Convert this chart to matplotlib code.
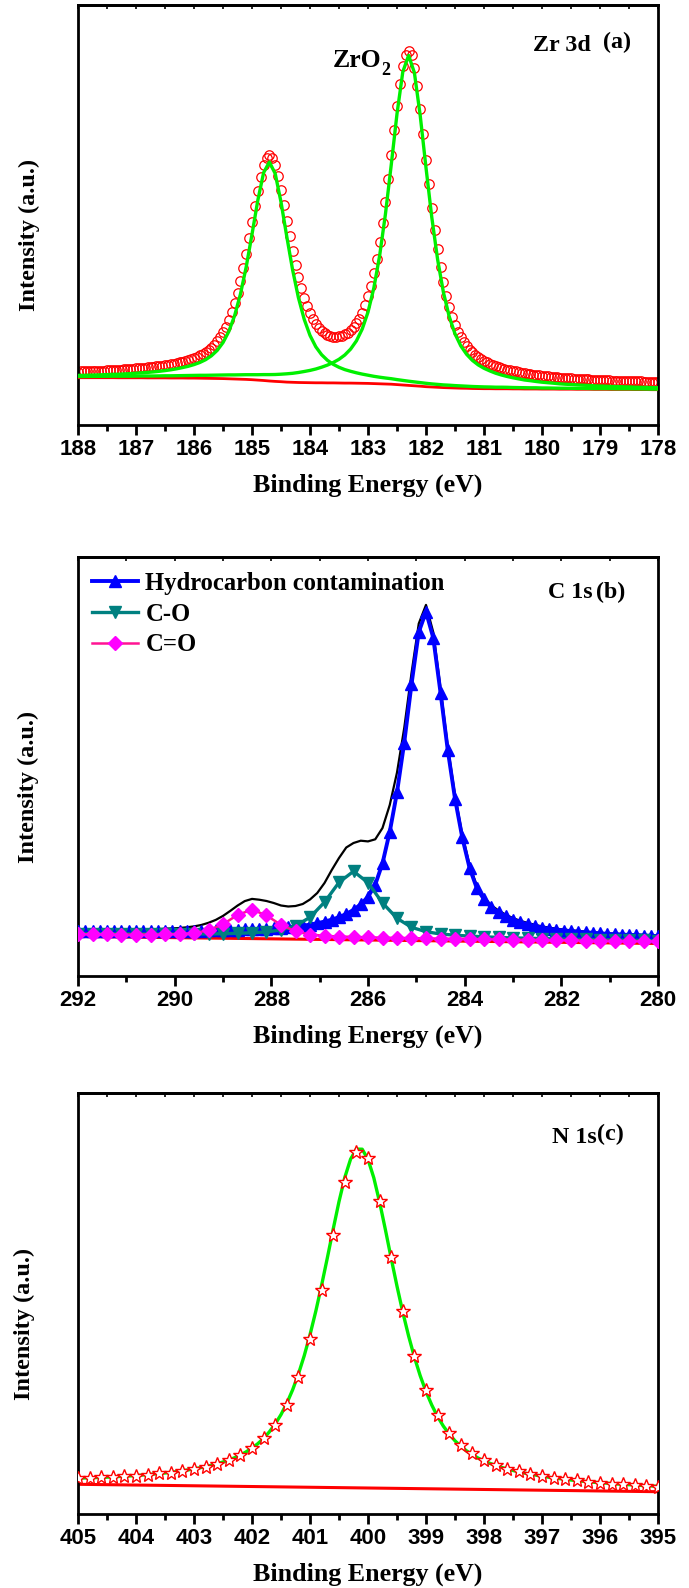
import numpy as np
import matplotlib
matplotlib.use("Agg")
import matplotlib.pyplot as plt
from matplotlib.ticker import MultipleLocator

plt.rcParams['font.family'] = 'Liberation Serif'
plt.rcParams['font.weight'] = 'bold'

# ---------------- Zr 3d ----------------
zr_ticks = [188, 187, 186, 185, 184, 183, 182, 181, 180, 179, 178]
zr_fit_range = (188.0, 178.0, 101)   # 0.1 eV steps
zr_raw_range = (188.0, 178.0, 201)   # 0.05 eV steps

zr_counts = [
    53.5, 53.6, 53.7, 53.8, 53.9, 54.0, 54.1, 54.3, 54.4, 54.5, 54.6,
    54.8, 55.0, 55.1, 55.2, 55.5, 55.6, 55.8, 56.0, 56.3, 56.6,
    56.8, 57.0, 57.3, 57.6, 57.8, 58.2, 58.6, 58.9, 59.4, 59.8,
    60.3, 60.8, 61.4, 62.1, 62.7, 63.4, 64.2, 65.0, 65.9, 67.1,
    68.3, 69.6, 71.2, 72.9, 75.1, 77.4, 80.3, 83.8, 88.0, 92.6,
    98.5, 105.3, 113.2, 122.1, 132.3, 144.1, 157.0, 171.5, 186.8, 202.6,
    218.9, 234.3, 248.3, 259.8, 267.3, 270.1, 267.5, 260.1, 249.0, 235.3,
    220.2, 204.3, 188.9, 174.1, 160.2, 147.8, 136.7, 127.2, 119.0, 111.8,
    105.9, 100.9, 97.3, 94.1, 91.6, 90.0, 89.0, 88.5, 88.4, 88.8,
    89.5, 90.7, 92.2, 94.7, 97.7, 101.7, 106.5, 112.4, 119.9, 128.7,
    139.2, 151.6, 166.4, 183.1, 201.9, 223.2, 246.2, 270.3, 295.5, 319.5,
    341.4, 359.1, 370.5, 374.3, 369.7, 357.5, 339.1, 316.4, 291.5, 265.4,
    240.7, 217.0, 195.1, 175.6, 158.2, 142.6, 129.4, 118.1, 108.5, 100.2,
    93.5, 87.9, 82.9, 78.9, 75.4, 72.6, 70.0, 67.9, 65.9, 64.2,
    62.7, 61.3, 60.1, 59.0, 58.1, 57.1, 56.3, 55.5, 54.8, 54.1,
    53.6, 52.9, 52.4, 51.8, 51.3, 50.9, 50.5, 50.1, 49.7, 49.3,
    49.0, 48.8, 48.4, 48.2, 47.8, 47.5, 47.3, 47.1, 46.9, 46.7,
    46.5, 46.2, 46.1, 45.9, 45.8, 45.7, 45.5, 45.3, 45.2, 45.0,
    44.9, 44.8, 44.7, 44.5, 44.4, 44.3, 44.2, 44.1, 44.0, 43.9,
    43.8, 43.7, 43.6, 43.6, 43.5, 43.4, 43.3, 43.2, 43.1, 43.1,
]
zr_background = [
    47.3, 47.3, 47.3, 47.3, 47.3, 47.3, 47.3, 47.2, 47.2, 47.2, 47.2,
    47.2, 47.1, 47.1, 47.1, 47.1, 47.0, 47.0, 47.0, 46.9, 46.9,
    46.8, 46.7, 46.6, 46.5, 46.4, 46.2, 46.0, 45.8, 45.6, 45.3,
    44.9, 44.5, 44.0, 43.6, 43.3, 42.9, 42.7, 42.5, 42.4, 42.3,
    42.2, 42.2, 42.1, 42.1, 42.0, 41.9, 41.9, 41.8, 41.7, 41.6,
    41.4, 41.2, 41.0, 40.8, 40.4, 40.0, 39.6, 39.2, 38.8, 38.3,
    38.0, 37.7, 37.4, 37.2, 37.0, 36.8, 36.7, 36.5, 36.4, 36.3,
    36.3, 36.2, 36.2, 36.2, 36.1, 36.1, 36.0, 36.0, 36.0, 35.9,
    35.9, 35.9, 35.8, 35.8, 35.8, 35.7, 35.7, 35.7, 35.6, 35.6,
    35.6, 35.5, 35.5, 35.5, 35.5, 35.4, 35.4, 35.4, 35.3, 35.3,
]
zr_3d32 = [
    49.6, 49.7, 49.9, 50.0, 50.2, 50.4, 50.7, 50.8, 51.1, 51.4, 51.8,
    52.2, 52.6, 53.1, 53.7, 54.4, 55.2, 56.2, 57.4, 58.7, 60.4,
    62.5, 65.3, 69.2, 74.6, 82.4, 93.5, 109.3, 130.7, 158.1, 190.7,
    224.6, 252.3, 263.0, 251.4, 223.0, 188.3, 155.2, 127.4, 105.7, 89.6,
    78.2, 70.3, 64.7, 60.7, 57.7, 55.4, 53.7, 52.2, 50.9, 49.8,
    48.7, 47.8, 47.0, 46.3, 45.4, 44.6, 43.8, 43.1, 42.4, 41.7,
    41.1, 40.6, 40.1, 39.8, 39.4, 39.1, 38.8, 38.5, 38.3, 38.1,
    38.0, 37.8, 37.8, 37.7, 37.5, 37.4, 37.3, 37.2, 37.2, 37.0,
    37.0, 36.9, 36.8, 36.8, 36.7, 36.6, 36.6, 36.5, 36.4, 36.4,
    36.4, 36.3, 36.2, 36.2, 36.2, 36.1, 36.1, 36.0, 35.9, 35.9,
]
zr_3d52 = [
    48.5, 48.5, 48.6, 48.6, 48.7, 48.7, 48.8, 48.8, 48.8, 48.8, 48.9,
    49.0, 49.0, 49.0, 49.1, 49.2, 49.2, 49.3, 49.4, 49.5, 49.6,
    49.7, 49.7, 49.8, 49.9, 50.0, 50.1, 50.1, 50.2, 50.3, 50.3,
    50.3, 50.4, 50.4, 50.5, 50.8, 51.2, 51.7, 52.5, 53.5, 54.6,
    56.0, 57.8, 59.9, 62.5, 65.7, 70.0, 75.9, 84.1, 95.9, 112.9,
    136.8, 169.1, 210.6, 259.8, 311.2, 353.1, 369.6, 352.3, 309.6, 257.3,
    207.6, 165.6, 132.8, 108.5, 91.2, 79.1, 70.7, 64.6, 60.1, 56.7,
    54.1, 51.8, 50.0, 48.5, 47.2, 46.1, 45.0, 44.3, 43.5, 42.8,
    42.3, 41.8, 41.2, 40.8, 40.5, 40.1, 39.8, 39.6, 39.2, 39.0,
    38.8, 38.5, 38.4, 38.2, 38.1, 37.8, 37.7, 37.6, 37.4, 37.3,
]

# ---------------- C 1s ----------------
cc_ticks = [292, 290, 288, 286, 284, 282, 280]
cc_fine_range = (292.0, 280.0, 81)    # 0.15 eV steps
cc_coarse_range = (292.0, 280.0, 41)  # 0.3 eV steps

cc_envelope = [
    45.8, 45.7, 45.8, 45.9, 45.9, 46.0, 46.1, 46.2, 46.3, 46.5,
    46.7, 46.9, 47.3, 47.6, 48.0, 48.7, 49.6, 51.0, 53.2, 56.1,
    60.1, 65.1, 70.4, 74.9, 77.1, 76.3, 75.0, 73.0, 70.5, 69.5,
    70.0, 72.0, 76.5, 83.0, 93.0, 106.0, 118.0, 128.5, 133.0, 135.3,
    134.6, 136.7, 148.0, 171.0, 203.5, 248.2, 302.8, 352.4, 371.1, 343.8,
    288.2, 229.9, 180.9, 141.7, 111.1, 90.5, 78.8, 70.7, 65.5, 61.3,
    57.9, 55.2, 53.1, 51.2, 49.6, 48.3, 47.3, 46.4, 45.7, 45.0,
    44.4, 43.8, 43.3, 42.7, 42.3, 42.0, 41.7, 41.3, 41.0, 40.6, 40.3,
]
cc_hydrocarbon = [
    45.0, 44.9, 44.9, 44.9, 44.9, 44.9, 44.9, 44.9, 44.9, 44.9,
    45.0, 45.0, 45.1, 45.2, 45.2, 45.3, 45.4, 45.5, 45.7, 45.8,
    46.0, 46.2, 46.4, 46.6, 46.8, 47.1, 47.5, 47.8, 48.3, 48.8,
    49.5, 50.2, 51.4, 52.8, 54.4, 56.3, 58.8, 62.0, 66.1, 71.7,
    79.1, 91.4, 112.7, 144.2, 183.6, 233.5, 291.7, 343.9, 364.3, 338.2,
    283.5, 225.9, 177.4, 138.6, 108.3, 88.0, 76.6, 68.7, 63.7, 59.6,
    56.4, 53.8, 51.8, 50.0, 48.5, 47.2, 46.3, 45.5, 44.8, 44.2,
    43.6, 43.1, 42.6, 42.1, 41.7, 41.4, 41.1, 40.8, 40.5, 40.1, 39.8,
]
cc_c_o = [
    42.5, 42.3, 42.3, 42.2, 42.1, 42.0, 42.0, 42.0, 42.0, 42.1,
    42.3, 42.7, 43.2, 44.1, 46.0, 50.1, 58.7, 73.8, 93.6, 104.7,
    93.3, 73.1, 57.7, 48.7, 44.3, 42.0, 40.8, 39.9, 39.2, 38.6,
    38.1, 37.8, 37.4, 37.1, 36.8, 36.6, 36.3, 36.0, 35.8, 35.6, 35.4,
]
cc_c_eq_o = [
    41.8, 41.7, 41.6, 41.5, 41.5, 41.5, 41.6, 42.0, 42.9, 45.7,
    51.8, 61.0, 66.4, 60.6, 51.1, 44.7, 41.5, 40.2, 39.5, 39.1,
    38.7, 38.3, 38.1, 37.9, 37.6, 37.4, 37.2, 37.0, 36.8, 36.6,
    36.4, 36.2, 36.0, 35.8, 35.6, 35.5, 35.3, 35.1, 34.9, 34.8, 34.6,
]
cc_bg_energy = [292.0, 286.0, 280.0]
cc_background = [39.5, 36.0, 32.5]

# ---------------- N 1s ----------------
n_ticks = [405, 404, 403, 402, 401, 400, 399, 398, 397, 396, 395]
n_fit_range = (405.0, 395.0, 101)   # 0.1 eV steps
n_raw_range = (405.0, 395.0, 51)    # 0.2 eV steps

n_counts = [
    35.7, 35.9, 36.6, 37.2, 37.6, 38.4, 39.2, 40.6, 41.4, 43.0,
    45.0, 47.0, 50.2, 54.4, 59.0, 66.3, 75.7, 89.5, 109.5, 137.0,
    175.0, 224.0, 279.0, 332.0, 362.3, 356.0, 313.5, 257.0, 203.0, 158.2,
    124.0, 99.0, 81.5, 69.2, 60.8, 54.4, 49.3, 45.3, 42.7, 40.5,
    38.4, 36.4, 35.2, 33.7, 32.3, 31.3, 30.5, 29.6, 29.0, 28.1, 27.5,
]
n_fit = [
    35.8, 36.0, 36.2, 36.4, 36.6, 36.8, 37.2, 37.5, 37.7, 38.1,
    38.5, 38.9, 39.4, 39.9, 40.5, 41.0, 41.7, 42.4, 43.3, 44.1,
    45.1, 46.2, 47.4, 48.7, 50.3, 52.0, 54.0, 56.3, 58.9, 62.2,
    65.9, 70.3, 75.6, 82.2, 90.0, 99.4, 110.7, 124.1, 139.9, 158.2,
    179.2, 202.8, 228.8, 256.4, 284.9, 312.4, 336.6, 354.9, 364.9, 364.8,
    354.7, 336.2, 311.9, 284.3, 255.6, 227.8, 201.7, 178.0, 156.8, 138.3,
    122.4, 108.9, 97.4, 87.8, 79.9, 73.2, 67.7, 63.1, 59.3, 55.9,
    53.1, 50.7, 48.6, 46.7, 44.9, 43.5, 42.1, 40.9, 39.7, 38.8,
    37.8, 36.9, 36.0, 35.4, 34.7, 34.0, 33.3, 32.8, 32.3, 31.7,
    31.3, 30.9, 30.4, 30.0, 29.6, 29.3, 29.0, 28.6, 28.3, 28.0, 27.7,
]
n_bg_energy = [405.0, 395.0]
n_background = [29.7, 22.3]

RED = '#FF0000'
GREEN = '#00F000'


def grid(r):
    return np.linspace(r[0], r[1], r[2])


def style_axes(ax, ticks, minor, ylim, ylabel_x):
    ax.set_xlim(ticks[0], ticks[-1])
    ax.set_ylim(*ylim)
    ax.set_xticks(ticks)
    ax.set_xticklabels([str(t) for t in ticks], fontfamily='Liberation Sans',
                       fontweight='bold', fontsize=16)
    ax.xaxis.set_minor_locator(MultipleLocator(minor))
    ax.set_yticks([])
    ax.tick_params(axis='x', which='major', direction='out', length=7,
                   width=2, pad=3.2)
    ax.tick_params(axis='x', which='minor', direction='out', length=4, width=2)
    for sp in ax.spines.values():
        sp.set_linewidth(2)
    top = ax.secondary_xaxis('top')
    top.set_xticks(ticks)
    top.xaxis.set_minor_locator(MultipleLocator(minor))
    top.tick_params(axis='x', which='both', direction='in', length=3,
                    width=1.2, labeltop=False)
    top.spines['top'].set_linewidth(2)
    ax.set_xlabel('Binding Energy (eV)', fontsize=18.7, fontweight='bold',
                  labelpad=9.5)
    ax.set_ylabel('Intensity (a.u.)', fontsize=17.5, fontweight='bold')
    ax.yaxis.set_label_coords(ylabel_x, 0.452)


fig = plt.figure(figsize=(6.89, 15.88), dpi=100)

# (a) Zr 3d
ax1 = fig.add_axes([78 / 689, 1163 / 1588, 580 / 689, 420 / 1588])
ax1.plot(grid(zr_raw_range), zr_counts, 'o', ms=6.8, mfc='none', mec=RED,
         mew=0.9, zorder=2)
ax1.plot(grid(zr_fit_range), zr_background, color=RED, lw=2.0, zorder=3)
ax1.plot(grid(zr_fit_range), zr_3d32, color=GREEN, lw=2.4, zorder=4)
ax1.plot(grid(zr_fit_range), zr_3d52, color=GREEN, lw=2.4, zorder=4)
style_axes(ax1, zr_ticks, 0.5, (0, 420), -0.0655)
# ZrO2 label with a lowered subscript
ax1.text(0.44, 0.853, 'ZrO', transform=ax1.transAxes, fontsize=18.5,
         fontweight='bold', va='baseline')
ax1.text(0.523, 0.833, '2', transform=ax1.transAxes, fontsize=13,
         fontweight='bold', va='baseline')
ax1.text(0.784, 0.891, 'Zr 3d', transform=ax1.transAxes, fontsize=17.3,
         fontweight='bold', va='baseline')
ax1.text(0.905, 0.897, '(a)', transform=ax1.transAxes, fontsize=17.3,
         fontweight='bold', va='baseline')

# (b) C 1s
ax2 = fig.add_axes([78 / 689, 612 / 1588, 580 / 689, 419 / 1588])
ax2.plot(grid(cc_fine_range), cc_envelope, color='black', lw=1.6, zorder=2)
ax2.plot(cc_bg_energy, cc_background, color=RED, lw=2.2, zorder=2)
ax2.plot(grid(cc_fine_range), cc_hydrocarbon, color='#0000FF', lw=2.8,
         marker='^', ms=9, label='Hydrocarbon contamination', zorder=3)
ax2.plot(grid(cc_coarse_range), cc_c_o, color='#008080', lw=2.4,
         marker='v', ms=9, label='C-O', zorder=4)
ax2.plot(grid(cc_coarse_range), cc_c_eq_o, color='#FF1493', lw=1.8,
         marker='D', ms=7, mfc='#FF00FF', mec='#FF00FF', label='C=O', zorder=5)
style_axes(ax2, cc_ticks, 1, (0, 419), -0.067)
ax2.legend(loc='upper left', bbox_to_anchor=(0.0236, 0.965), frameon=False,
           prop={'family': 'Liberation Serif', 'weight': 'bold', 'size': 17.7},
           handlelength=1.87, handletextpad=0.31, labelspacing=0.32,
           borderpad=0, borderaxespad=0, numpoints=1)
ax2.text(0.81, 0.902, 'C 1s', transform=ax2.transAxes, fontsize=17.3,
         fontweight='bold', va='baseline')
ax2.text(0.893, 0.901, '(b)', transform=ax2.transAxes, fontsize=17.3,
         fontweight='bold', va='baseline')

# (c) N 1s
ax3 = fig.add_axes([78 / 689, 74 / 1588, 580 / 689, 421 / 1588])
ax3.plot(n_bg_energy, n_background, color=RED, lw=2.2, zorder=2)
ax3.plot(grid(n_fit_range), n_fit, color=GREEN, lw=2.4, zorder=3)
ax3.plot(grid(n_raw_range), n_counts, '*', ms=10.5, mfc='white', mec=RED,
         mew=1.0, zorder=4)
style_axes(ax3, n_ticks, 0.5, (0, 421), -0.074)
ax3.text(0.817, 0.881, 'N 1s', transform=ax3.transAxes, fontsize=17.3,
         fontweight='bold', va='baseline')
ax3.text(0.895, 0.889, '(c)', transform=ax3.transAxes, fontsize=17.3,
         fontweight='bold', va='baseline')

fig.savefig('out.png', dpi=100)
